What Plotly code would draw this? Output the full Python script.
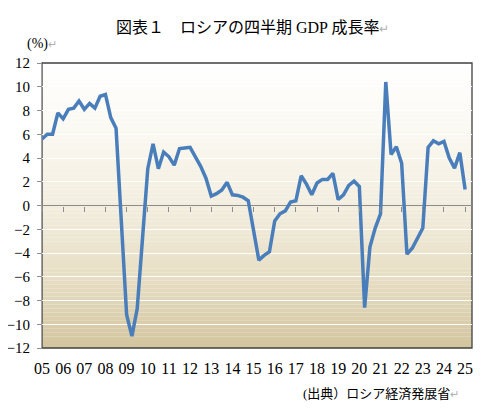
import plotly.graph_objects as go

# ロシアの四半期GDP成長率 (前年同期比, %)  2005Q1 - 2025Q1
years = list(range(2005, 2026))
gdp = [5.6, 6.0, 6.0, 7.8,
       7.3, 8.1, 8.2, 8.8,
       8.1, 8.6, 8.2, 9.2,
       9.35, 7.4, 6.5, -1.3,
       -9.2, -11.0, -8.7, -2.8,
       3.1, 5.2, 3.1, 4.5,
       4.1, 3.4, 4.8, 4.85,
       4.9, 4.1, 3.3, 2.3,
       0.8, 1.0, 1.3, 1.95,
       0.9, 0.85, 0.7, 0.4,
       -2.0, -4.6, -4.2, -3.9,
       -1.3, -0.7, -0.45, 0.3,
       0.4, 2.5, 1.8, 0.9,
       1.9, 2.2, 2.2, 2.7,
       0.5, 0.9, 1.7, 2.05,
       1.6, -8.6, -3.5, -1.9,
       -0.7, 10.4, 4.3, 4.95,
       3.55, -4.1, -3.6, -2.75,
       -1.9, 4.9, 5.45, 5.2,
       5.4, 4.0, 3.15, 4.45,
       1.35]
year_labels = ["05", "06", "07", "08", "09", "10", "11", "12", "13", "14", "15",
               "16", "17", "18", "19", "20", "21", "22", "23", "24", "25"]

quarters = [f"{y}Q{q}" for y in years for q in range(1, 5)][:len(gdp)]
qidx = list(range(len(gdp)))
xmax = 81.3

serif = "Liberation Serif, Noto Sans CJK JP"

fig = go.Figure()
fig.add_trace(go.Scatter(x=qidx, y=gdp, mode='lines', name='GDP',
                         text=quarters, hovertemplate='%{text}: %{y}<extra></extra>',
                         line=dict(color='#4a7ebb', width=3.5), showlegend=False))
# ダミー (y=0 の目盛り用の軸)
fig.add_trace(go.Scatter(x=[0, xmax], y=[None, None], xaxis='x2', mode='lines',
                         line=dict(width=0), hoverinfo='skip', showlegend=False))

# 背景のグラデーション
stops = [(12, (255, 255, 255)), (6, (250, 248, 241)), (0, (242, 237, 222)),
         (-6, (231, 222, 197)), (-12, (210, 196, 158))]
nb = 72
for k in range(nb):
    y0 = 12 - 24 * k / nb
    y1 = 12 - 24 * (k + 1) / nb
    ym = (y0 + y1) / 2
    for (a, ca), (b, cb) in zip(stops[:-1], stops[1:]):
        if b <= ym <= a:
            t = (a - ym) / (a - b)
            c = tuple(int(round(ca[j] + (cb[j] - ca[j]) * t)) for j in range(3))
            break
    fig.add_shape(type='rect', xref='x domain', yref='y', x0=0, x1=1, y0=y1, y1=y0,
                  fillcolor='rgb(%d,%d,%d)' % c, line=dict(width=0), layer='below')
fig.add_shape(type='rect', xref='paper', yref='paper', x0=0, x1=1, y0=0, y1=1,
              line=dict(color='#404040', width=1.3), layer='below')

ticks_q1 = [qidx[4 * i] for i in range(len(year_labels))]

# ページ余白(8px)を見込んで少し小さく
fig.update_layout(
    width=481, height=403,
    margin=dict(l=34, r=17, t=55, b=63),
    paper_bgcolor='white', plot_bgcolor='rgba(0,0,0,0)',
    font=dict(family=serif, size=16, color='black'),
    xaxis=dict(range=[0, xmax], tickmode='array', tickvals=ticks_q1,
               ticktext=year_labels, ticks='outside', ticklen=6,
               tickcolor='rgba(0,0,0,0)', showgrid=False, zeroline=False,
               showline=False, automargin=False, tickfont=dict(size=16, family=serif)),
    xaxis2=dict(overlaying='x', anchor='free', position=0.5, range=[0, xmax],
                tickmode='array', tickvals=ticks_q1,
                showticklabels=False, ticks='outside', ticklen=5, tickcolor='#8c8c8c',
                showgrid=False, zeroline=False, showline=False, automargin=False),
    yaxis=dict(range=[-12, 12], dtick=2, tickmode='linear', tick0=-12,
               ticks='outside', ticklen=4, tickcolor='#8c8c8c',
               showline=True, linecolor='#a0a0a0', linewidth=1.2,
               showgrid=True, gridcolor='rgba(255,255,255,0.95)', gridwidth=1.2,
               zeroline=True, zerolinecolor='#8c8c8c', zerolinewidth=1.2,
               ticklabelstandoff=4, automargin=False,
               tickfont=dict(size=15, family=serif)),
    annotations=[
        dict(text="図表１　ロシアの四半期 GDP 成長率<span style='color:#b0b0b0;font-size:12px'>↵</span>",
             xref='paper', yref='paper', x=0.49, y=1.123, xanchor='center', yanchor='middle',
             showarrow=False, font=dict(size=16, family=serif)),
        dict(text="(%)<span style='color:#b0b0b0;font-size:11px'>↵</span>",
             xref='paper', yref='paper', x=-0.04, y=1.067, xanchor='left', yanchor='middle',
             showarrow=False, font=dict(size=14, family=serif)),
        dict(text="(出典）ロシア経済発展省<span style='color:#b0b0b0;font-size:11px'>↵</span>",
             xref='paper', yref='paper', x=0.975, y=-0.158, xanchor='right', yanchor='middle',
             showarrow=False, font=dict(size=13, family=serif)),
        dict(text="↵", xref='paper', yref='paper', x=1.016, y=-0.072, xanchor='left',
             yanchor='middle', showarrow=False, font=dict(size=9, color='#b8b8b8')),
    ],
)

fig.write_html("out.html")
